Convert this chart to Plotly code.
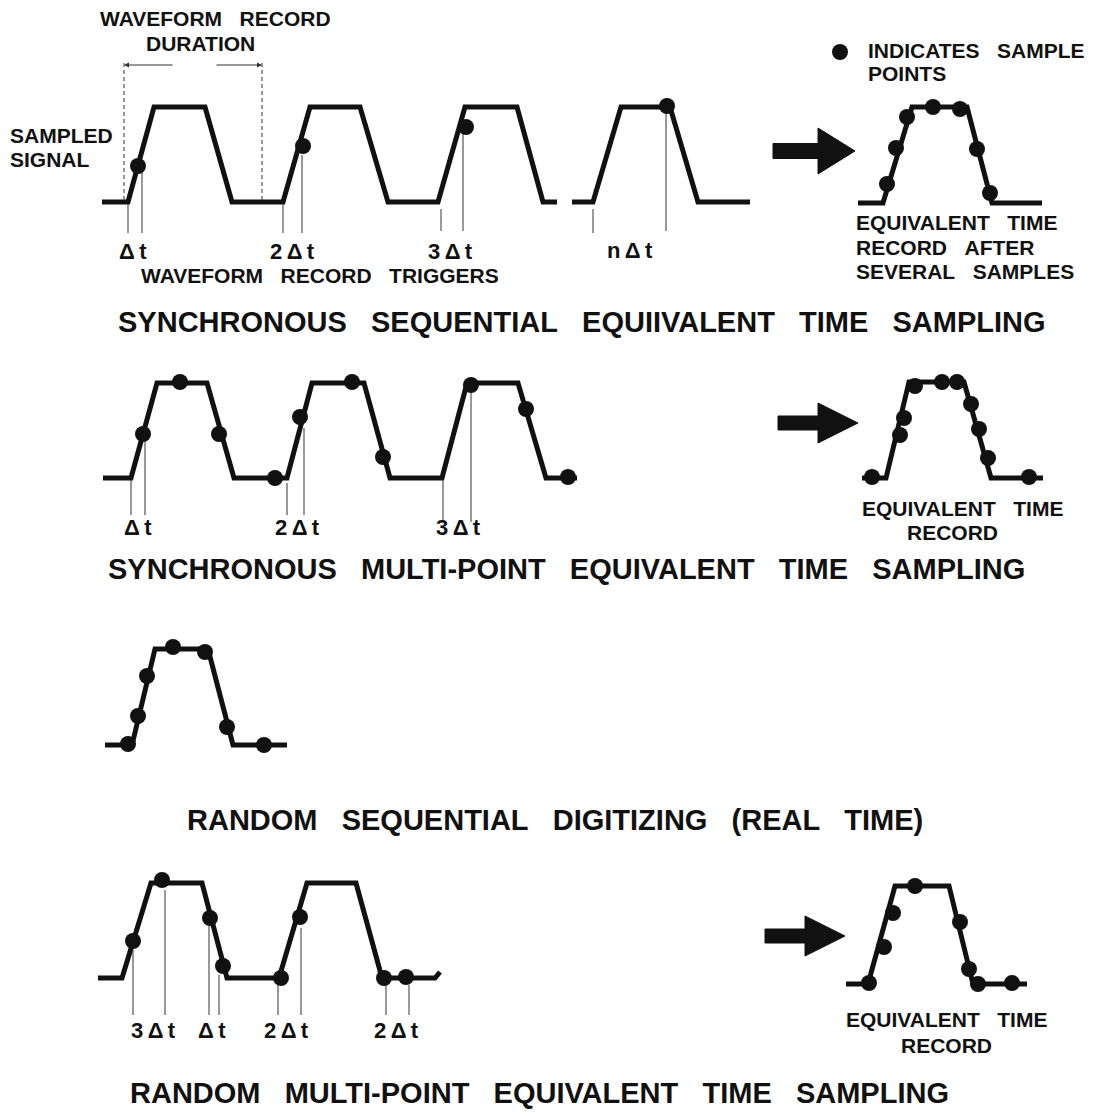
import plotly.graph_objects as go

W, H = 1094, 1118
OFF = 8  # page body margin compensation
NB = "\u00a0"
TS = "\u2009"


def words(*ws, n=3):
    return (NB * n).join(ws)


def dt(prefix=""):
    return (prefix + TS if prefix else "") + "Δ" + TS + "t"


# ---------------- Panel 1: synchronous sequential ----------------
p1_wave_a_x = [102, 128, 154, 205, 232, 283, 310, 360, 388, 438, 465, 517, 543, 557]
p1_wave_a_y = [202, 202, 107, 107, 202, 202, 107, 107, 202, 202, 107, 107, 202, 202]
p1_wave_b_x = [572, 593, 621, 670, 698, 750]
p1_wave_b_y = [202, 202, 107, 107, 202, 202]
p1_dots_x = [138, 303, 466, 667]
p1_dots_y = [166, 146, 127, 106]
p1_trig_x = [128, 142, 283, 302, 441, 463, 593, 666]
p1_trig_top = [203, 172, 203, 155, 209, 130, 209, 112]
p1_trig_bot = [233, 233, 233, 233, 231, 231, 233, 231]
p1_dash_x = [124, 262]
p1_dash_top, p1_dash_bot = 63, 200
p1_rec_x = [858, 883, 912, 967, 992, 1042]
p1_rec_y = [203, 203, 107, 107, 203, 203]
p1_rec_dots_x = [887, 896, 907, 933, 960, 977, 990]
p1_rec_dots_y = [184, 148, 117, 107, 109, 149, 193]
p1_arrow = dict(x0=773, xm=818, tip=855, yc=151, hs=7.5, hh=23)
p1_legend_dot = (840, 52)

# ---------------- Panel 2: synchronous multi-point ----------------
p2_wave_x = [103, 131, 157, 207, 234, 287, 312, 364, 390, 442, 467, 518, 546, 577]
p2_wave_y = [478, 478, 383, 383, 478, 478, 383, 383, 478, 478, 383, 383, 478, 478]
p2_dots_x = [143, 180, 219, 275, 300, 352, 383, 471, 526, 568]
p2_dots_y = [434, 382, 434, 478, 417, 382, 457, 385, 409, 477]
p2_trig_x = [131, 145, 287, 304, 443, 471]
p2_trig_top = [480, 440, 483, 428, 480, 390]
p2_trig_bot = [515, 515, 515, 515, 522, 522]
p2_rec_x = [862, 886, 909, 964, 991, 1043]
p2_rec_y = [478, 478, 382, 382, 478, 478]
p2_rec_dots_x = [872, 900, 904, 915, 942, 957, 971, 979, 988, 1029]
p2_rec_dots_y = [477, 435, 418, 386, 382, 382, 404, 429, 458, 477]
p2_arrow = dict(x0=778, xm=818, tip=858, yc=423, hs=7, hh=20)

# ---------------- Panel 3: random sequential (real time) ----------------
p3_wave_x = [105, 132, 155, 208, 233, 287]
p3_wave_y = [745, 745, 649, 649, 745, 745]
p3_dots_x = [128, 138, 147, 173, 205, 227, 264]
p3_dots_y = [744, 716, 676, 647, 652, 727, 745]

# ---------------- Panel 4: random multi-point ----------------
p4_wave_x = [98, 122, 151, 202, 227, 279, 307, 356, 382, 435, 440]
p4_wave_y = [978, 978, 883, 883, 978, 978, 883, 883, 978, 978, 972]
p4_dots_x = [133, 162, 210, 223, 281, 300, 384, 406]
p4_dots_y = [941, 880, 918, 966, 978, 917, 978, 977]
p4_trig_x = [133, 165, 209, 219, 278, 301, 386, 409]
p4_trig_top = [950, 890, 925, 975, 985, 928, 985, 985]
p4_trig_bot = [1015] * 8
p4_rec_x = [846, 868, 895, 949, 973, 1027]
p4_rec_y = [984, 984, 886, 886, 984, 984]
p4_rec_dots_x = [869, 884, 893, 915, 960, 969, 978, 1012]
p4_rec_dots_y = [983, 947, 913, 886, 922, 969, 984, 983]
p4_arrow = dict(x0=765, xm=805, tip=845, yc=936, hs=7, hh=20)

# ---------------- Text ----------------
titles = [
    (words("SYNCHRONOUS", "SEQUENTIAL", "EQUIIVALENT", "TIME", "SAMPLING"), 582, 322),
    (words("SYNCHRONOUS", "MULTI-POINT", "EQUIVALENT", "TIME", "SAMPLING"), 566, 569),
    (words("RANDOM", "SEQUENTIAL", "DIGITIZING", "(REAL", "TIME)"), 555, 820),
    (words("RANDOM", "MULTI-POINT", "EQUIVALENT", "TIME", "SAMPLING"), 539, 1093),
]
labels_center = [
    (words("WAVEFORM", "RECORD"), 215, 18),
    ("DURATION", 200, 43),
    (words("WAVEFORM", "RECORD", "TRIGGERS"), 320, 275),
    (words("EQUIVALENT", "TIME"), 962, 508),
    ("RECORD", 952, 532),
    (words("EQUIVALENT", "TIME"), 946, 1019),
    ("RECORD", 946, 1045),
]
dt_labels = [
    (dt(), 133, 251),
    (dt("2"), 292, 251),
    (dt("3"), 450, 251),
    (dt("n"), 630, 250),
    (dt(), 138, 527),
    (dt("2"), 297, 527),
    (dt("3"), 458, 527),
    (dt("3"), 153, 1030),
    (dt(), 212, 1030),
    (dt("2"), 286, 1030),
    (dt("2"), 396, 1030),
]
labels_left = [
    ("SAMPLED", 8, 135),
    ("SIGNAL", 8, 159),
    (words("INDICATES", "SAMPLE"), 866, 50),
    ("POINTS", 866, 73),
    (words("EQUIVALENT", "TIME"), 854, 222),
    (words("RECORD", "AFTER"), 854, 247),
    (words("SEVERAL", "SAMPLES"), 854, 271),
]

FONT = "Liberation Sans, Arial, Helvetica, sans-serif"
INK = "#111111"
DOT = 16

fig = go.Figure()


def thick(xs, ys):
    fig.add_trace(go.Scatter(x=xs, y=ys, mode="lines",
                             line=dict(color=INK, width=5),
                             hoverinfo="skip", showlegend=False))


def dots(xs, ys, size=DOT):
    fig.add_trace(go.Scatter(x=xs, y=ys, mode="markers",
                             marker=dict(color=INK, size=size, line=dict(width=0)),
                             hoverinfo="skip", showlegend=False))


def verticals(xs, tops, bots, dash="solid", color="#333333"):
    vx, vy = [], []
    for x, t, b in zip(xs, tops, bots):
        vx += [x, x, None]
        vy += [t, b, None]
    fig.add_trace(go.Scatter(x=vx, y=vy, mode="lines",
                             line=dict(color=color, width=1, dash=dash),
                             hoverinfo="skip", showlegend=False))


def big_arrow(a):
    xs = [a["x0"], a["xm"], a["xm"], a["tip"], a["xm"], a["xm"], a["x0"], a["x0"]]
    ys = [a["yc"] - a["hs"], a["yc"] - a["hs"], a["yc"] - a["hh"], a["yc"],
          a["yc"] + a["hh"], a["yc"] + a["hs"], a["yc"] + a["hs"], a["yc"] - a["hs"]]
    fig.add_trace(go.Scatter(x=xs, y=ys, mode="lines", fill="toself",
                             fillcolor=INK, line=dict(color=INK, width=1),
                             hoverinfo="skip", showlegend=False))


# Panel 1
thick(p1_wave_a_x, p1_wave_a_y)
thick(p1_wave_b_x, p1_wave_b_y)
verticals(p1_trig_x, p1_trig_top, p1_trig_bot)
verticals(p1_dash_x, [p1_dash_top] * 2, [p1_dash_bot] * 2, dash="4px,3px")
dots(p1_dots_x, p1_dots_y)
thick(p1_rec_x, p1_rec_y)
dots(p1_rec_dots_x, p1_rec_dots_y)
big_arrow(p1_arrow)
dots([p1_legend_dot[0]], [p1_legend_dot[1]], size=16)

# Panel 2
thick(p2_wave_x, p2_wave_y)
verticals(p2_trig_x, p2_trig_top, p2_trig_bot)
dots(p2_dots_x, p2_dots_y)
thick(p2_rec_x, p2_rec_y)
dots(p2_rec_dots_x, p2_rec_dots_y)
big_arrow(p2_arrow)

# Panel 3
thick(p3_wave_x, p3_wave_y)
dots(p3_dots_x, p3_dots_y)

# Panel 4
thick(p4_wave_x, p4_wave_y)
verticals(p4_trig_x, p4_trig_top, p4_trig_bot)
dots(p4_dots_x, p4_dots_y)
thick(p4_rec_x, p4_rec_y)
dots(p4_rec_dots_x, p4_rec_dots_y)
big_arrow(p4_arrow)

annotations = []
for txt, x, y in titles:
    annotations.append(dict(x=x, y=y, text=txt, showarrow=False, xanchor="center",
                            yanchor="middle", font=dict(family=FONT, size=29, color=INK, weight="bold")))
for txt, x, y in labels_center:
    annotations.append(dict(x=x, y=y, text=txt, showarrow=False, xanchor="center",
                            yanchor="middle", font=dict(family=FONT, size=21, color=INK, weight="bold")))
for txt, x, y in dt_labels:
    annotations.append(dict(x=x, y=y, text=txt, showarrow=False, xanchor="center",
                            yanchor="middle", font=dict(family=FONT, size=22, color=INK, weight="bold")))
for txt, x, y in labels_left:
    annotations.append(dict(x=x, y=y, text=txt, showarrow=False, xanchor="left",
                            yanchor="middle", font=dict(family=FONT, size=21, color=INK, weight="bold")))

# Record-duration arrows
dur_y = 65
for tail, head in [(174, p1_dash_x[0]), (215, p1_dash_x[1])]:
    annotations.append(dict(x=head, y=dur_y, ax=tail, ay=dur_y, axref="x", ayref="y",
                            xref="x", yref="y", text="", showarrow=True, arrowhead=2,
                            arrowsize=1, arrowwidth=1, arrowcolor="#333333"))

fig.update_layout(
    width=W, height=H, autosize=False,
    margin=dict(l=0, r=0, t=0, b=0, pad=0),
    paper_bgcolor="white", plot_bgcolor="white",
    xaxis=dict(range=[OFF, W + OFF], visible=False, fixedrange=True),
    yaxis=dict(range=[H + OFF, OFF], visible=False, fixedrange=True),
    annotations=annotations,
    showlegend=False,
)

fig.write_html("out.html", config={"displayModeBar": False})
